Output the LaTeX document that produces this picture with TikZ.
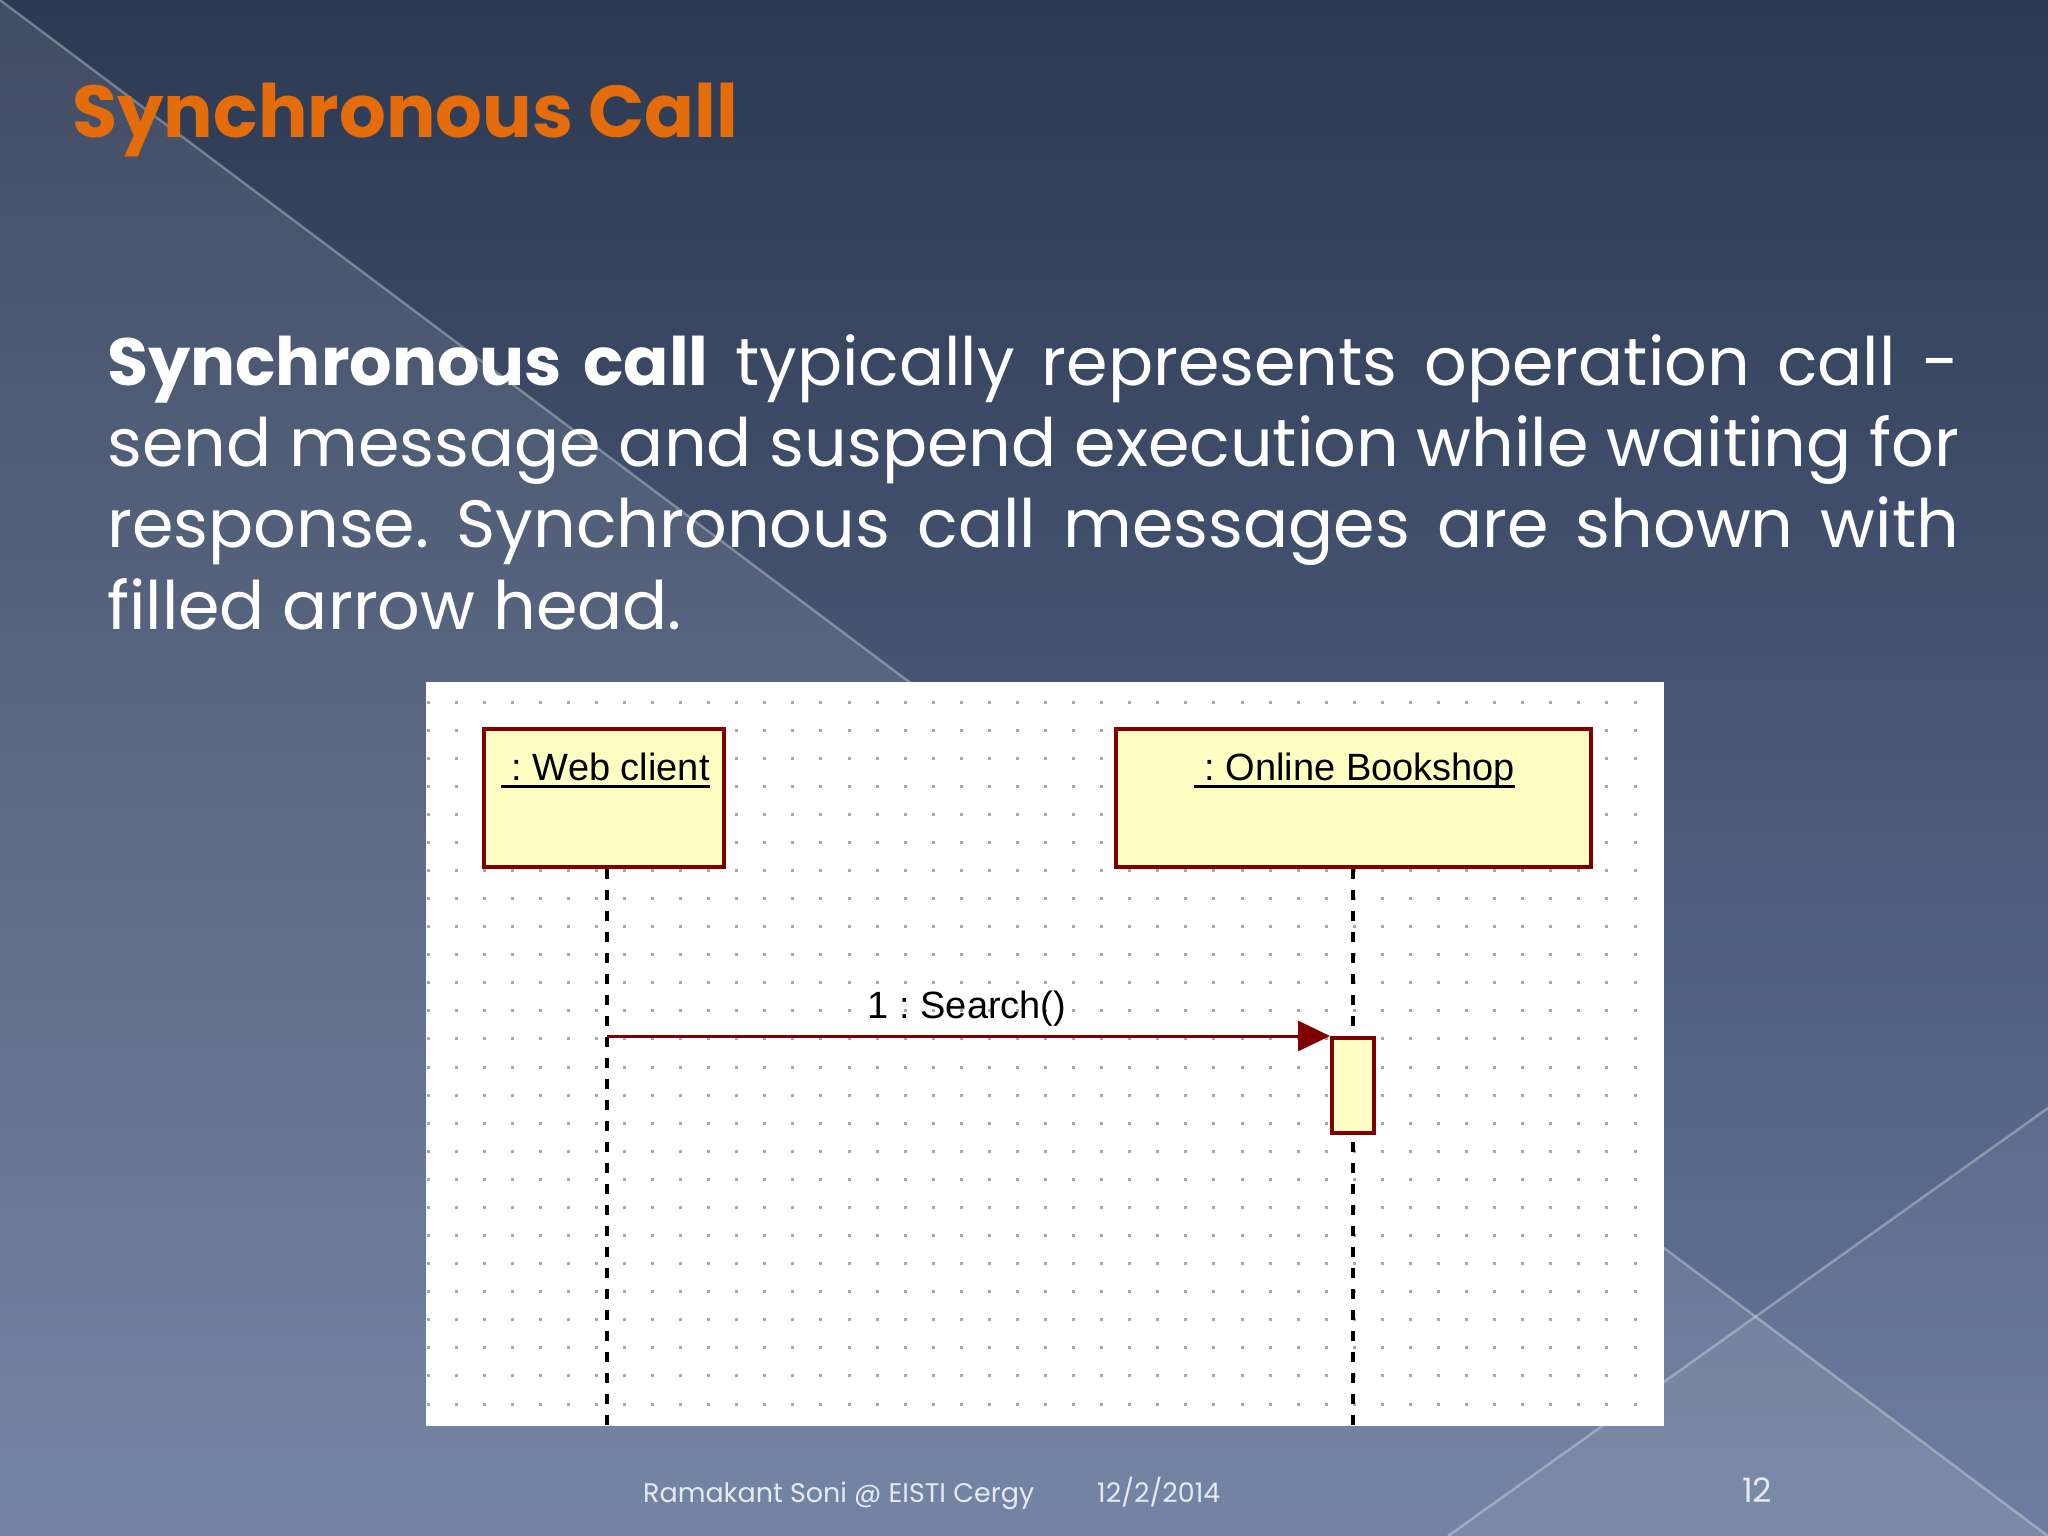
\documentclass[tikz,border=0pt]{standalone}
\usepackage{fontspec}
\usetikzlibrary{arrows.meta}
\newfontfamily\gothic{Poppins}
\newfontfamily\umlfont{Liberation Sans}
\definecolor{bgtop}{HTML}{2C3952}
\definecolor{bgbot}{HTML}{66779C}
\definecolor{titleorange}{HTML}{E46C0A}
\definecolor{umlred}{HTML}{800000}
\definecolor{umlyellow}{HTML}{FFFFC4}
\definecolor{griddot}{HTML}{A8A8A8}
\definecolor{footgray}{HTML}{E6E9F0}
\newlength\Tw
\newlength\Bw
\newlength\Fw
\frenchspacing
\AtBeginDocument{%
\settowidth\Tw{\gothic\bfseries\fontsize{72}{72}\selectfont Synchronous Call}%
\pgfmathsetmacro\tsize{72*(666/\Tw)}%
\settowidth\Bw{\gothic\fontsize{72}{81}\selectfont send message and suspend execution while waiting for}%
\pgfmathsetmacro\bsize{72*(1852/\Bw)}%
\settowidth\Fw{\gothic\fontsize{27}{27}\selectfont Ramakant Soni @ EISTI Cergy}%
\pgfmathsetmacro\fsize{27*(391/\Fw)}%
\pgfmathsetmacro\psize{\fsize*1.25}%
}
\tikzset{
  bgline/.style={draw=white, draw opacity=0.3, line width=2.5pt},
  panelbox/.style={fill=white, draw=none, rectangle, inner sep=0, minimum width=1238, minimum height=744},
  obj/.style={draw=umlred, fill=umlyellow, line width=4pt, inner sep=0, rectangle},
  lifeline/.style={draw=black, line width=4pt, dash pattern=on 10pt off 11pt},
  msg/.style={draw=umlred, line width=3pt, -{Triangle[length=32pt,width=30pt]}, fill=umlred},
  umltext/.style={font=\umlfont\fontsize{38}{40}\selectfont, inner sep=0, text=black, anchor=base},
  underl/.style={draw=black, line width=3pt},
  bodyline/.style={anchor=base west, inner sep=0, text=white},
  foot/.style={anchor=base west, inner sep=0, text=footgray}
}
\begin{document}
\begin{tikzpicture}[x=1pt, y=-1pt]
\useasboundingbox (0,0) rectangle (2048,1536);
% background
\shade[top color=bgtop, bottom color=bgbot] (0,0) rectangle (2048,1536);
\fill[white, opacity=0.1] (0,0) -- (2048,1536) -- (0,1536) -- cycle;
\fill[white, opacity=0.05] (1448,1536) -- (2048,1108) -- (2048,1536) -- cycle;
\draw[bgline] (0,0) -- (2048,1536);
\draw[bgline] (1448,1536) -- (2048,1108);
% title
\node[anchor=base west, inner sep=0, text=titleorange, font={\gothic\bfseries\fontsize{\tsize}{\tsize}\selectfont}] (title) at (72,138) {Synchronous Call};
% body
\begin{scope}[every node/.style={bodyline, font={\gothic\fontsize{\bsize}{81}\selectfont}}]
\node (l1) at (107,385) {\makebox[1852pt][s]{\bfseries Synchronous call\mdseries{} typically represents operation call -}};
\node (l2) at (107,466) {\makebox[1852pt][s]{send message and suspend execution while waiting for}};
\node (l3) at (107,547) {\makebox[1852pt][s]{response. Synchronous call messages are shown with}};
\node (l4) at (107,629) {filled arrow head.};
\end{scope}
% diagram panel
\node[panelbox] (panel) at (1045,1054) {};
\foreach \i in {0,...,43} {
  \foreach \j in {0,...,25} {
    \fill[griddot] ({426.5+28.07*\i},{700.5+28.08*\j}) rectangle ++(3,3);
  }
}
\node[obj, minimum width=240, minimum height=138] (wc) at (604,798) {};
\node[obj, minimum width=475, minimum height=138] (ob) at (1353,798) {};
\coordinate (wctop) at ([xshift=3pt]wc.south);
\coordinate (wcend) at (wctop |- panel.south);
\coordinate (obend) at (ob.south |- panel.south);
\draw[lifeline] (wctop) -- (wcend);
\draw[lifeline] (ob.south) -- (obend);
\node[obj, minimum width=42, minimum height=95] (act) at (1353,1085.5) {};
\coordinate (msgstart) at (wctop |- act.north);
\draw[msg] (msgstart) -- (act.north west);
\node[umltext] (msglbl) at (967,1018) {1 : Search()};
\node[umltext] (wclab) at (605.5,780) {\ : Web client};
\draw[underl] ([yshift=-6pt]wclab.base west) -- ([yshift=-6pt]wclab.base east);
\node[umltext] (oblab) at (1354.5,780) {\ : Online Bookshop};
\draw[underl] ([yshift=-6pt]oblab.base west) -- ([yshift=-6pt]oblab.base east);
% footer
\node[foot, font={\gothic\fontsize{\fsize}{\fsize}\selectfont}] (author) at (643,1502) {Ramakant Soni @ EISTI Cergy};
\node[foot, font={\gothic\fontsize{\fsize}{\fsize}\selectfont}] (date) at (1097,1502) {12/2/2014};
\node[foot, font={\gothic\fontsize{\psize}{\psize}\selectfont}] (pageno) at (1742,1502) {12};
\end{tikzpicture}
\end{document}
